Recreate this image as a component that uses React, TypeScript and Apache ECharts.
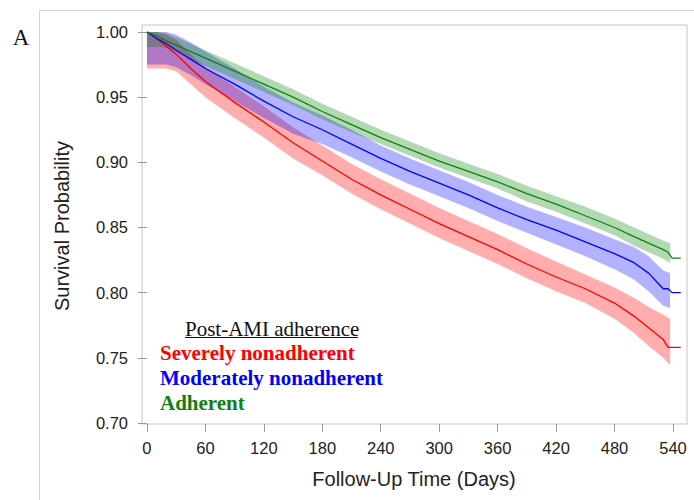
import React, { useEffect, useRef } from "react";
import * as echarts from "echarts";

const xTicks = [0, 60, 120, 180, 240, 300, 360, 420, 480, 540];
const yTicks = [0.7, 0.75, 0.8, 0.85, 0.9, 0.95, 1.0];

const lineDays = [0, 10, 20, 30, 45, 60, 90, 120, 150, 180, 210, 240, 270, 300, 330, 360, 390, 420, 450, 480, 500, 515, 530, 535, 539, 548];
const severeLine = [1.0, 0.995, 0.989, 0.983, 0.972, 0.962, 0.946, 0.931, 0.915, 0.901, 0.887, 0.875, 0.864, 0.853, 0.843, 0.833, 0.822, 0.812, 0.803, 0.792, 0.782, 0.773, 0.764, 0.758, 0.758, 0.758];
const moderateLine = [1.0, 0.995, 0.991, 0.986, 0.979, 0.972, 0.96, 0.947, 0.935, 0.925, 0.914, 0.903, 0.893, 0.884, 0.875, 0.865, 0.856, 0.848, 0.839, 0.83, 0.823, 0.815, 0.803, 0.803, 0.8, 0.8];
const adherentLine = [1.0, 0.997, 0.993, 0.99, 0.985, 0.98, 0.97, 0.96, 0.95, 0.939, 0.929, 0.919, 0.91, 0.901, 0.893, 0.885, 0.876, 0.868, 0.859, 0.85, 0.843, 0.838, 0.833, 0.831, 0.8265, 0.8265];

const bandDays = [0, 10, 20, 30, 45, 60, 90, 120, 150, 180, 210, 240, 270, 300, 330, 360, 390, 420, 450, 480, 500, 515, 530, 537];
const severeLower = [0.972, 0.972, 0.972, 0.97, 0.96, 0.95, 0.934, 0.919, 0.903, 0.89, 0.876, 0.864, 0.853, 0.842, 0.832, 0.822, 0.811, 0.801, 0.792, 0.78, 0.769, 0.759, 0.75, 0.744];
const severeUpper = [1.0, 1.0, 0.998, 0.994, 0.983, 0.973, 0.958, 0.943, 0.927, 0.913, 0.899, 0.887, 0.876, 0.865, 0.855, 0.845, 0.834, 0.824, 0.814, 0.804, 0.796, 0.789, 0.783, 0.78];
const moderateLower = [0.975, 0.975, 0.975, 0.973, 0.967, 0.96, 0.947, 0.934, 0.922, 0.914, 0.904, 0.893, 0.883, 0.874, 0.865, 0.855, 0.846, 0.837, 0.828, 0.818, 0.81, 0.801, 0.79, 0.788];
const moderateUpper = [1.0, 1.0, 1.0, 0.998, 0.992, 0.985, 0.972, 0.958, 0.946, 0.936, 0.925, 0.913, 0.903, 0.894, 0.885, 0.875, 0.866, 0.858, 0.85, 0.841, 0.835, 0.828, 0.817, 0.815];
const adherentLower = [0.9885, 0.9885, 0.988, 0.985, 0.979, 0.974, 0.964, 0.954, 0.944, 0.933, 0.923, 0.914, 0.905, 0.896, 0.888, 0.88, 0.87, 0.862, 0.853, 0.844, 0.836, 0.831, 0.826, 0.823];
const adherentUpper = [1.0, 1.0, 0.999, 0.996, 0.991, 0.986, 0.976, 0.966, 0.956, 0.945, 0.935, 0.925, 0.916, 0.907, 0.899, 0.891, 0.882, 0.874, 0.866, 0.857, 0.85, 0.845, 0.84, 0.838];

const groups = [
  { name: "Severely nonadherent", line: severeLine, lower: severeLower, upper: severeUpper, color: "#ff0000", fill: "rgba(255,0,0,0.32)" },
  { name: "Moderately nonadherent", line: moderateLine, lower: moderateLower, upper: moderateUpper, color: "#0000ff", fill: "rgba(0,0,255,0.30)" },
  { name: "Adherent", line: adherentLine, lower: adherentLower, upper: adherentUpper, color: "#108010", fill: "rgba(0,128,0,0.30)" },
];

const SANS = "'Liberation Sans', Arial, sans-serif";
const SERIF = "'Liberation Serif', 'Times New Roman', serif";

export default function App() {
  const ref = useRef<HTMLDivElement>(null);
  useEffect(() => {
    if (!ref.current) return;
    const chart = echarts.init(ref.current, undefined, { renderer: "svg" });

    const bandSeries = groups.map((g) => ({
      type: "custom",
      name: g.name + " CI",
      data: [[0, 1]],
      z: 1,
      clip: true,
      silent: true,
      renderItem: (_params: any, api: any) => {
        const pts: number[][] = [];
        for (let i = 0; i < bandDays.length; i++) pts.push(api.coord([bandDays[i], g.upper[i]]));
        for (let i = bandDays.length - 1; i >= 0; i--) pts.push(api.coord([bandDays[i], g.lower[i]]));
        return { type: "polygon", shape: { points: pts }, style: { fill: g.fill, stroke: "none" } };
      },
    }));

    const lineSeries = groups.map((g) => ({
      type: "line",
      name: g.name,
      data: lineDays.map((d, i) => [d, g.line[i]]),
      showSymbol: false,
      z: 3,
      lineStyle: { color: g.color, width: 1.3 },
      itemStyle: { color: g.color },
    }));

    const legendItems = [
      { text: "Severely nonadherent", color: "#ff0000", y: 353 },
      { text: "Moderately nonadherent", color: "#0000ff", y: 378 },
      { text: "Adherent", color: "#108010", y: 403 },
    ];

    chart.setOption({
      animation: false,
      backgroundColor: "#ffffff",
      grid: {
        left: 142,
        top: 25,
        width: 545,
        height: 399,
        show: true,
        borderColor: "#c4c4c4",
        borderWidth: 1,
        backgroundColor: "transparent",
        outerBoundsMode: "none",
      },
      xAxis: {
        type: "value",
        min: -5.1,
        max: 554.4,
        axisLine: { show: false },
        splitLine: { show: false },
        axisTick: { show: true, length: 8, customValues: xTicks, lineStyle: { color: "#999999" } },
        axisLabel: {
          customValues: xTicks,
          margin: 15,
          fontSize: 16.5,
          fontFamily: SANS,
          color: "#222222",
        },
      },
      yAxis: {
        type: "value",
        min: 0.6992,
        max: 1.0054,
        axisLine: { show: false },
        splitLine: { show: false },
        axisTick: { show: true, length: 9, customValues: yTicks, lineStyle: { color: "#999999" } },
        axisLabel: {
          customValues: yTicks,
          margin: 14,
          fontSize: 16.5,
          fontFamily: SANS,
          color: "#222222",
          formatter: (v: number) => v.toFixed(2),
        },
      },
      graphic: [
        { type: "rect", shape: { x: 39.5, y: 10.5, width: 800, height: 800 }, style: { fill: "none", stroke: "#d4d4d4", lineWidth: 1 }, silent: true, z: -10 },
        { type: "text", x: 21, y: 37, style: { text: "A", font: `23px ${SERIF}`, fill: "#111111", align: "center", verticalAlign: "middle" } },
        { type: "text", x: 62, y: 226, rotation: Math.PI / 2, style: { text: "Survival Probability", font: `20px ${SANS}`, fill: "#222222", align: "center", verticalAlign: "middle" } },
        { type: "text", x: 414, y: 479, style: { text: "Follow-Up Time (Days)", font: `20px ${SANS}`, fill: "#222222", align: "center", verticalAlign: "middle" } },
        { type: "text", x: 185, y: 329, style: { text: "Post-AMI adherence", font: `21px ${SERIF}`, fill: "#111111", align: "left", verticalAlign: "middle" } },
        { type: "line", shape: { x1: 185, y1: 337.5, x2: 358, y2: 337.5 }, style: { stroke: "#111111", lineWidth: 1 } },
        ...legendItems.map((l) => ({
          type: "text",
          x: 160,
          y: l.y,
          style: { text: l.text, font: `bold 21px ${SERIF}`, fill: l.color, align: "left", verticalAlign: "middle" },
        })),
      ],
      series: [...bandSeries, ...lineSeries],
    });

    return () => chart.dispose();
  }, []);

  return <div ref={ref} style={{ position: "fixed", left: 0, top: 0, width: 694, height: 500 }} />;
}
